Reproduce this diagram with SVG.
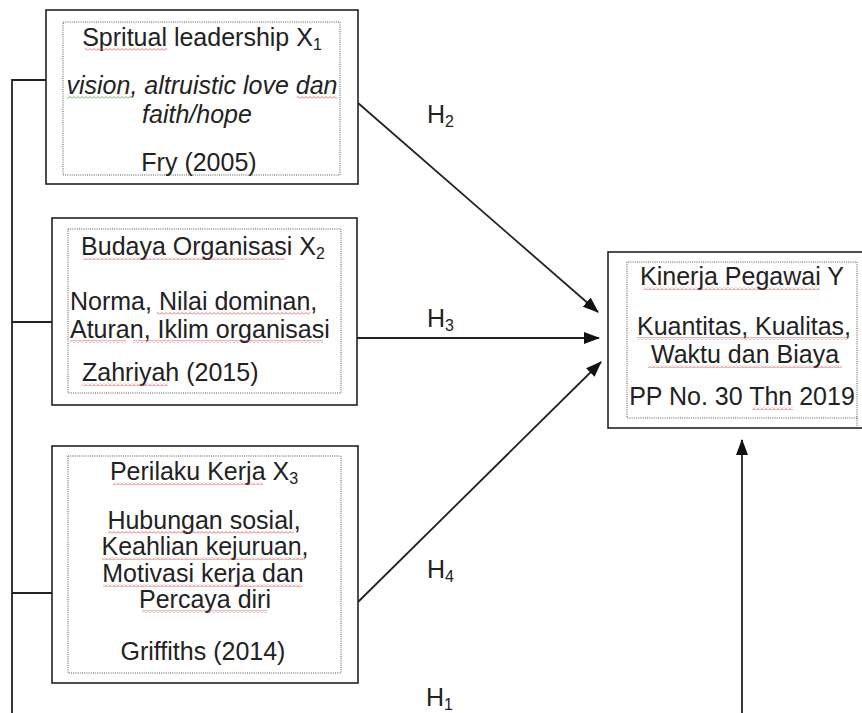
<svg xmlns="http://www.w3.org/2000/svg" width="862" height="713" viewBox="0 0 862 713">
<style>
  .box { fill: #fff; stroke: #222; stroke-width: 1.6; }
  .dot { fill: none; stroke: #555; stroke-width: 1; stroke-dasharray: 1 1.2; }
  .t { font-family: "Liberation Sans", Arial, sans-serif; font-size: 25px; fill: #222; }
  .c { text-anchor: middle; }
  .i { font-style: italic; }
  .sub { font-size: 16px; }
  .line { fill: none; stroke: #222; stroke-width: 1.8; }
  .sq { fill: url(#wavyRed); }
  .sqg { fill: url(#wavyGreen); }
</style>
<defs>
  <marker id="arr" markerUnits="userSpaceOnUse" markerWidth="16" markerHeight="14" refX="15" refY="7" orient="auto">
    <path d="M0,1 L16,7 L0,13 Z" fill="#111"/>
  </marker>
  <pattern id="wavyRed" patternUnits="userSpaceOnUse" width="4" height="3">
    <polyline points="0,2.5 2,0.5 4,2.5" fill="none" stroke="#d04848" stroke-width="0.8"/>
  </pattern>
  <pattern id="wavyGreen" patternUnits="userSpaceOnUse" width="4" height="3">
    <polyline points="0,2.5 2,0.5 4,2.5" fill="none" stroke="#3a9a3a" stroke-width="0.8"/>
  </pattern>
</defs>
<rect width="862" height="713" fill="#fff"/>

<g id="connectors">
  <polyline class="line" points="46,80 12,80 12,713"/>
  <line class="line" x1="12" y1="322" x2="52" y2="322"/>
  <line class="line" x1="12" y1="593" x2="52" y2="593"/>
  <line class="line" x1="358" y1="103" x2="598" y2="312" marker-end="url(#arr)"/>
  <line class="line" x1="357" y1="338" x2="599" y2="338" marker-end="url(#arr)"/>
  <line class="line" x1="358" y1="602" x2="601" y2="362" marker-end="url(#arr)"/>
  <line class="line" x1="742" y1="713" x2="742" y2="440" marker-end="url(#arr)"/>
  <text class="t" x="427" y="123">H<tspan class="sub" dy="4">2</tspan></text>
  <text class="t" x="427" y="327">H<tspan class="sub" dy="4">3</tspan></text>
  <text class="t" x="427" y="578">H<tspan class="sub" dy="4">4</tspan></text>
  <text class="t" x="426" y="706">H<tspan class="sub" dy="4">1</tspan></text>
</g>

<g id="x1">
  <rect class="box" x="46" y="10" width="312" height="174"/>
  <rect class="dot" x="63" y="22" width="277" height="153"/>
  <text class="t c" x="202" y="46">Spritual leadership X<tspan class="sub" dy="4">1</tspan></text>
  <text class="t c i" x="202" y="94">vision, altruistic love dan</text>
  <text class="t c i" x="197" y="123">faith/hope</text>
  <text class="t c" x="199" y="171">Fry (2005)</text>
  <rect class="sq" x="85" y="48" width="82" height="3"/>
  <rect class="sqg" x="67" y="96" width="64" height="3"/>
  <rect class="sq" x="297" y="96" width="40" height="3"/>
</g>

<g id="x2">
  <rect class="box" x="52" y="218" width="305" height="187"/>
  <rect class="dot" x="68" y="229" width="273" height="164"/>
  <text class="t c" x="203" y="255">Budaya Organisasi X<tspan class="sub" dy="4">2</tspan></text>
  <text class="t" x="70" y="310">Norma, Nilai dominan,</text>
  <text class="t" x="70" y="338">Aturan, Iklim organisasi</text>
  <text class="t" x="82" y="381">Zahriyah (2015)</text>
  <rect class="sq" x="83" y="257" width="202" height="3"/>
  <rect class="sq" x="157" y="312" width="153" height="3"/>
  <rect class="sq" x="70" y="340" width="56" height="3"/>
  <rect class="sq" x="133" y="340" width="190" height="3"/>
  <rect class="sq" x="82" y="383" width="86" height="3"/>
</g>

<g id="x3">
  <rect class="box" x="52" y="446" width="306" height="237"/>
  <rect class="dot" x="68" y="456" width="273" height="217"/>
  <text class="t c" x="204" y="480">Perilaku Kerja X<tspan class="sub" dy="4">3</tspan></text>
  <text class="t c" x="204" y="529">Hubungan sosial,</text>
  <text class="t c" x="205" y="555">Keahlian kejuruan,</text>
  <text class="t c" x="203" y="582">Motivasi kerja dan</text>
  <text class="t c" x="205" y="608">Percaya diri</text>
  <text class="t c" x="203" y="660">Griffiths (2014)</text>
  <rect class="sq" x="113" y="482" width="150" height="3"/>
  <rect class="sq" x="108" y="531" width="186" height="3"/>
  <rect class="sq" x="102" y="557" width="203" height="3"/>
  <rect class="sq" x="103" y="584" width="199" height="3"/>
  <rect class="sq" x="142" y="610" width="125" height="3"/>
</g>

<g id="y">
  <rect class="box" x="608" y="252" width="260" height="176"/>
  <polyline class="dot" points="857,428 857,262 627,262 627,418 857,418"/>
  <text class="t c" x="742" y="285">Kinerja Pegawai Y</text>
  <text class="t c" x="744" y="335">Kuantitas, Kualitas,</text>
  <text class="t c" x="745" y="363">Waktu dan Biaya</text>
  <text class="t c" x="742" y="405">PP No. 30 Thn 2019</text>
  <rect class="sq" x="643" y="287" width="177" height="3"/>
  <rect class="sq" x="637" y="337" width="212" height="3"/>
  <rect class="sq" x="648" y="365" width="194" height="3"/>
  <rect class="sq" x="752" y="407" width="41" height="3"/>
</g>
</svg>
